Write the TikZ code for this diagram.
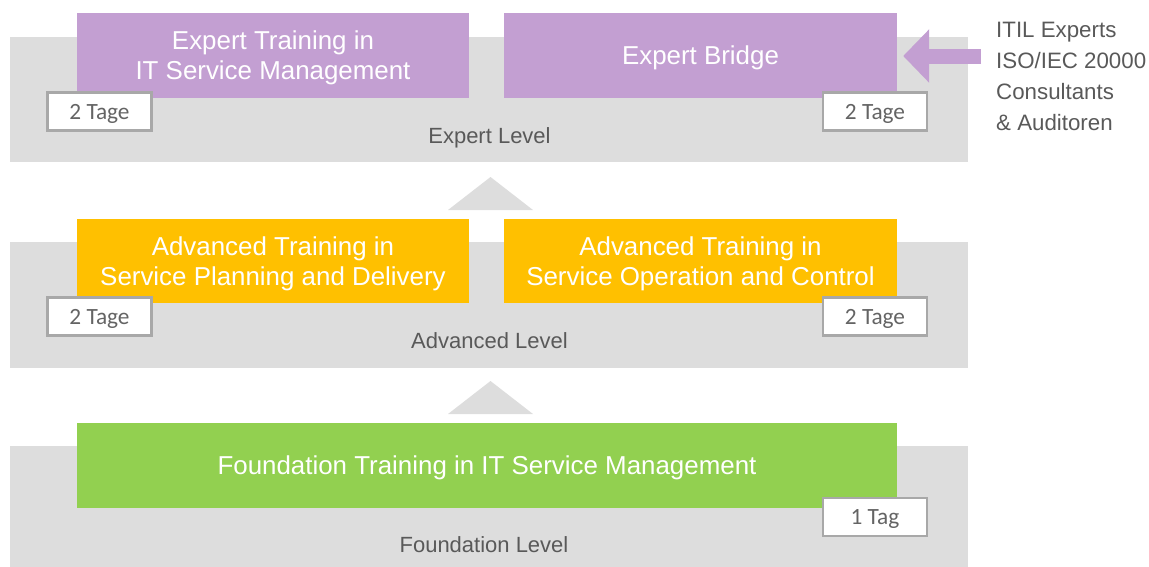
\documentclass[tikz,border=0pt]{standalone}
\usepackage{fontspec}
\setmainfont{Liberation Sans}
\newfontfamily\tagfont{Carlito}
\usetikzlibrary{arrows.meta}
\definecolor{bandgray}{RGB}{221,221,221}
\definecolor{expurple}{RGB}{195,159,210}
\definecolor{advyellow}{RGB}{255,192,0}
\definecolor{fndgreen}{RGB}{146,208,80}
\definecolor{labgray}{RGB}{89,89,89}
\definecolor{tagborder}{RGB}{168,168,168}
\definecolor{tagtext}{RGB}{100,100,100}
\newcommand\bxs{\rule[-0.234em]{0pt}{1.184em}}
\newcommand\tgs{\rule[-0.206em]{0pt}{1.056em}}
\begin{document}
\begin{tikzpicture}[x=1pt,y=-1pt,
  band/.style={fill=bandgray,draw=none,inner sep=0pt,minimum width=958pt},
  course/.style={draw=none,inner sep=0pt,text=white,align=center,
    font={\fontsize{25.9}{30}\selectfont\lineskiplimit=-100pt}},
  tagbox/.style={fill=white,draw=tagborder,line width=2.2pt,inner sep=0pt,
    minimum width=104pt,minimum height=38pt,text=tagtext,
    font={\tagfont\fontsize{23.3}{27}\selectfont}},
  levellabel/.style={anchor=base,inner sep=0pt,text=labgray,
    font={\fontsize{22}{26}\selectfont}},
  sidetext/.style={anchor=west,inner sep=0pt,text=labgray,align=left,
    font={\fontsize{22.3}{31}\selectfont\lineskiplimit=-100pt}},
  uptri/.style={fill=bandgray,draw=none}]
\useasboundingbox (0,0) rectangle (1149,566);

% level bands
\node[band,minimum height=125pt] (bandE) at (489,99.5) {};
\node[band,minimum height=126pt] (bandA) at (489,305) {};
\node[band,minimum height=121pt] (bandF) at (489,506.5) {};

% level labels
\node[levellabel] (lblE) at (489.5,143) {Expert Level};
\node[levellabel] (lblA) at (489.5,348) {Advanced Level};
\node[levellabel] (lblF) at (484,552) {Foundation Level};

% up triangles
\fill[uptri] (490.5,177) -- (533,210) -- (448,210) -- cycle;
\fill[uptri] (490.5,381) -- (533,414) -- (448,414) -- cycle;

% expert courses
\node[course,fill=expurple,minimum width=392pt,minimum height=85pt] (expTrain) at (273,55.5)
  {\bxs Expert Training in\\\bxs IT Service Management};
\node[course,fill=expurple,minimum width=393pt,minimum height=85pt] (expBridge) at (700.5,55.5)
  {\bxs Expert Bridge};

% advanced courses
\node[course,fill=advyellow,minimum width=392pt,minimum height=84pt] (advPD) at (273,261)
  {\bxs Advanced Training in\\\bxs Service Planning and Delivery};
\node[course,fill=advyellow,minimum width=393pt,minimum height=84pt] (advOC) at (700.5,261)
  {\bxs Advanced Training in\\\bxs Service Operation and Control};

% foundation course
\node[course,fill=fndgreen,minimum width=820pt,minimum height=85pt] (fnd) at (487,465.5)
  {\bxs Foundation Training in IT Service Management};

% duration tags
\node[tagbox] (tagE1) at (99.5,111.5) {\tgs 2 Tage};
\node[tagbox] (tagE2) at (875,111.5) {\tgs 2 Tage};
\node[tagbox] (tagA1) at (99.5,316.5) {\tgs 2 Tage};
\node[tagbox] (tagA2) at (875,316.5) {\tgs 2 Tage};
\node[tagbox] (tagF) at (875,517) {\tgs 1 Tag};

% side text and arrow
\node[sidetext] (side) at (996,76.5)
  {\bxs ITIL Experts\\\bxs ISO/IEC 20000\\\bxs Consultants\\\bxs \& Auditoren};
\coordinate (arrStart) at (981,56);
\draw[expurple,line width=15pt,shorten >=6pt,
  -{Triangle[length=26pt,width=52pt]}] (arrStart) -- (expBridge.east |- arrStart);
\end{tikzpicture}
\end{document}
